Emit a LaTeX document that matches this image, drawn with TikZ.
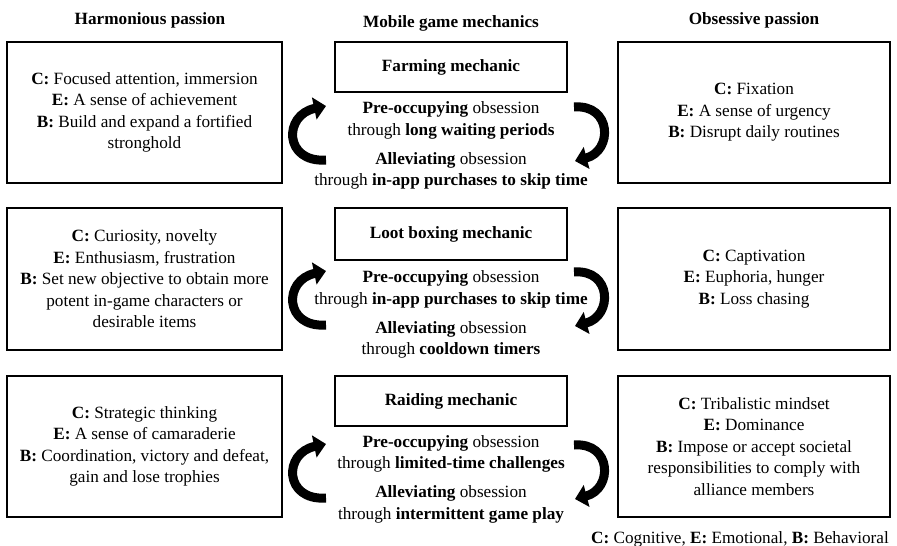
\documentclass[tikz,border=0pt]{standalone}
\usepackage{fontspec}
\setmainfont{Liberation Serif}
\usetikzlibrary{arrows.meta}
\tikzset{
  txt/.style={font=\fontsize{17.2}{21.5}\selectfont, align=center, inner sep=0pt},
  box/.style={txt, draw, line width=1.2pt},
  sidebox/.style={box, minimum height=141pt},
  leftbox/.style={sidebox, minimum width=275pt},
  rightbox/.style={sidebox, minimum width=272pt},
  mechbox/.style={box, minimum width=232pt, minimum height=50pt},
  head/.style={txt, font=\fontsize{17.2}{21}\selectfont\bfseries},
  cyclearrow/.style={line width=9pt, -{Triangle[length=12pt,width=22pt]}}
}
\begin{document}
\begin{tikzpicture}[x=1pt,y=-1pt]
\useasboundingbox (0,0) rectangle (897,546);

% headers
\node[head] (hh) at (150,20) {Harmonious passion};
\node[head] (hm) at (451,23) {Mobile game mechanics};
\node[head] (ho) at (754,20) {Obsessive passion};

% left boxes
\node[leftbox] (l1) at (144.5,112.5) {\textbf{C:} Focused attention, immersion\\\textbf{E:} A sense of achievement\\\textbf{B:} Build and expand a fortified\\stronghold};
\node[leftbox, minimum height=142pt] (l2) at (144.5,279) {\textbf{C:} Curiosity, novelty\\\textbf{E:} Enthusiasm, frustration\\\textbf{B:} Set new objective to obtain more\\potent in-game characters or\\desirable items};
\node[leftbox] (l3) at (144.5,446.5) {\textbf{C:} Strategic thinking\\\textbf{E:} A sense of camaraderie\\\textbf{B:} Coordination, victory and defeat,\\gain and lose trophies};

% right boxes
\node[rightbox] (r1) at (754,112.5) {\textbf{C:} Fixation\\\textbf{E:} A sense of urgency\\\textbf{B:} Disrupt daily routines};
\node[rightbox, minimum height=142pt] (r2) at (754,279) {\textbf{C:} Captivation\\\textbf{E:} Euphoria, hunger\\\textbf{B:} Loss chasing};
\node[rightbox] (r3) at (754,446.5) {\textbf{C:} Tribalistic mindset\\\textbf{E:} Dominance\\\textbf{B:} Impose or accept societal\\responsibilities to comply with\\alliance members};

% mechanic boxes
\node[mechbox] (m1) at (451,67) {\textbf{Farming mechanic}};
\node[mechbox, minimum height=52pt] (m2) at (451,234) {\textbf{Loot boxing mechanic}};
\node[mechbox] (m3) at (451,401) {\textbf{Raiding mechanic}};

% mechanic descriptions
\node[txt] (p1) at (451,120.5) {\textbf{Pre-occupying} obsession\\through \textbf{long waiting periods}};
\node[txt] (a1) at (451,171) {\textbf{Alleviating} obsession\\through \textbf{in-app purchases to skip time}};
\node[txt] (p2) at (451,289.5) {\textbf{Pre-occupying} obsession\\through \textbf{in-app purchases to skip time}};
\node[txt] (a2) at (451,340) {\textbf{Alleviating} obsession\\through \textbf{cooldown timers}};
\node[txt] (p3) at (451,454) {\textbf{Pre-occupying} obsession\\through \textbf{limited-time challenges}};
\node[txt] (a3) at (451,504.5) {\textbf{Alleviating} obsession\\through \textbf{intermittent game play}};

% footer
\node[txt, anchor=east] (leg) at (889,539) {\textbf{C:} Cognitive, \textbf{E:} Emotional, \textbf{B:} Behavioral};

% cycle arrows
\foreach \i/\c in {1/133, 2/298, 3/471} {
  \coordinate (lt\i) at (326,\c+27);
  \coordinate (lh\i) at (326,\c-27);
  \coordinate (rt\i) at (574,\c-26);
  \coordinate (rh\i) at (575,\c+28);
  \draw[cyclearrow] (lt\i) .. controls (284,\c+30) and (283,\c-18) .. (lh\i);
  \draw[cyclearrow] (rt\i) .. controls (612,\c-29) and (613,\c+18) .. (rh\i);
}
\end{tikzpicture}
\end{document}
